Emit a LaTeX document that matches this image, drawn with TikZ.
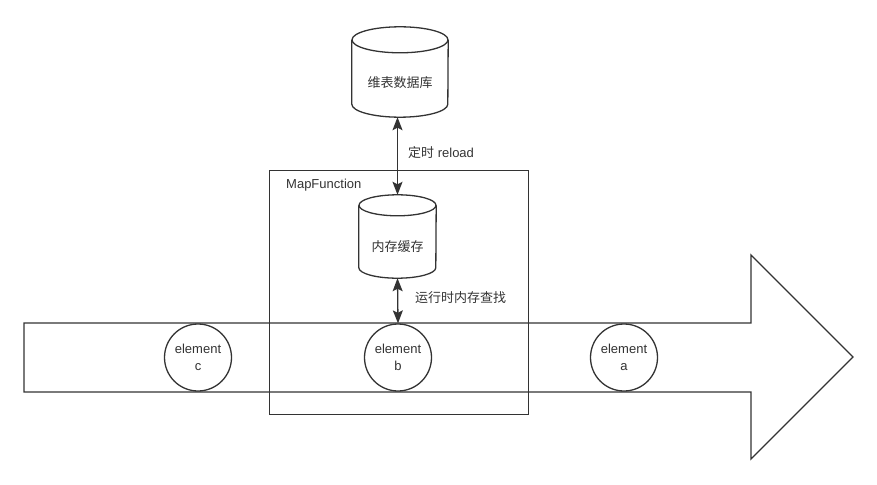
\documentclass[tikz,border=0pt]{standalone}
\usepackage{fontspec}
\setmainfont{Liberation Sans}
\newfontfamily\cjk{Noto Sans CJK SC}
\usetikzlibrary{arrows.meta,shapes.geometric}
\definecolor{ink}{HTML}{333333}
\tikzset{
  line/.style={draw=ink, line width=1.3pt, line join=miter},
  txt/.style={text=ink, font=\fontsize{13}{17}\selectfont, inner sep=0pt},
  cylbox/.style={draw=none, inner sep=0pt},
  elem/.style={line, txt, circle, fill=white, minimum size=67pt, align=center, text depth=-2pt},
  link/.style={line, {Stealth[length=13pt,width=10pt,inset=2.5pt]}-{Stealth[length=13pt,width=10pt,inset=2.5pt]}},
}
% outline of a cylinder drawn round a node: #1 name, #2 x radius, #3 y radius
\newcommand\cylout[3]{%
  \draw[line] ([yshift=-#3]#1.north west) -- ([yshift=#3]#1.south west)
    arc[start angle=180, end angle=360, x radius=#2, y radius=#3]
    -- ([yshift=-#3]#1.north east);
  \draw[line] ([yshift=-#3]#1.north) ellipse[x radius=#2, y radius=#3];
}
\begin{document}
\begin{tikzpicture}[x=1pt, y=-1pt]
\useasboundingbox (0,0) rectangle (877,484);

% the stream as one wide arrow
\draw[line] (24,323) -- (751,323) -- (751,255) -- (853,357) -- (751,459)
  -- (751,392) -- (24,392) -- cycle;

% operator box
\node[line, minimum width=259pt, minimum height=244pt, inner sep=0pt] (mapfn) at (399,292.5) {};
\node[txt, anchor=west] (mapfnlbl) at (286,185) {MapFunction};

% dimension table store and the in-memory cache
\node[cylbox, minimum width=96pt, minimum height=90pt] (db) at (400,72) {};
\cylout{db}{48pt}{13pt}
\node[txt] (dblbl) at ([yshift=-11pt]db.center) {\cjk 维表数据库};
\node[cylbox, minimum width=77pt, minimum height=83pt] (cache) at (397.5,236.5) {};
\cylout{cache}{38.5pt}{10.5pt}
\node[txt] (cachelbl) at ([yshift=-10pt]cache.center) {\cjk 内存缓存};

% stream elements
\node[elem] (ec) at (198,357.5) {element\\c};
\node[elem] (eb) at (398,357.5) {element\\b};
\node[elem] (ea) at (624,357.5) {element\\a};

% lookups
\draw[link] (db.south -| cache.north) -- (cache.north);
\node[txt, anchor=west] (reload) at (408,153) {{\cjk 定时} reload};
\draw[link] (cache.south) -- (eb.north);
\node[txt, anchor=west] (lookup) at (415,298) {\cjk 运行时内存查找};
\end{tikzpicture}
\end{document}
